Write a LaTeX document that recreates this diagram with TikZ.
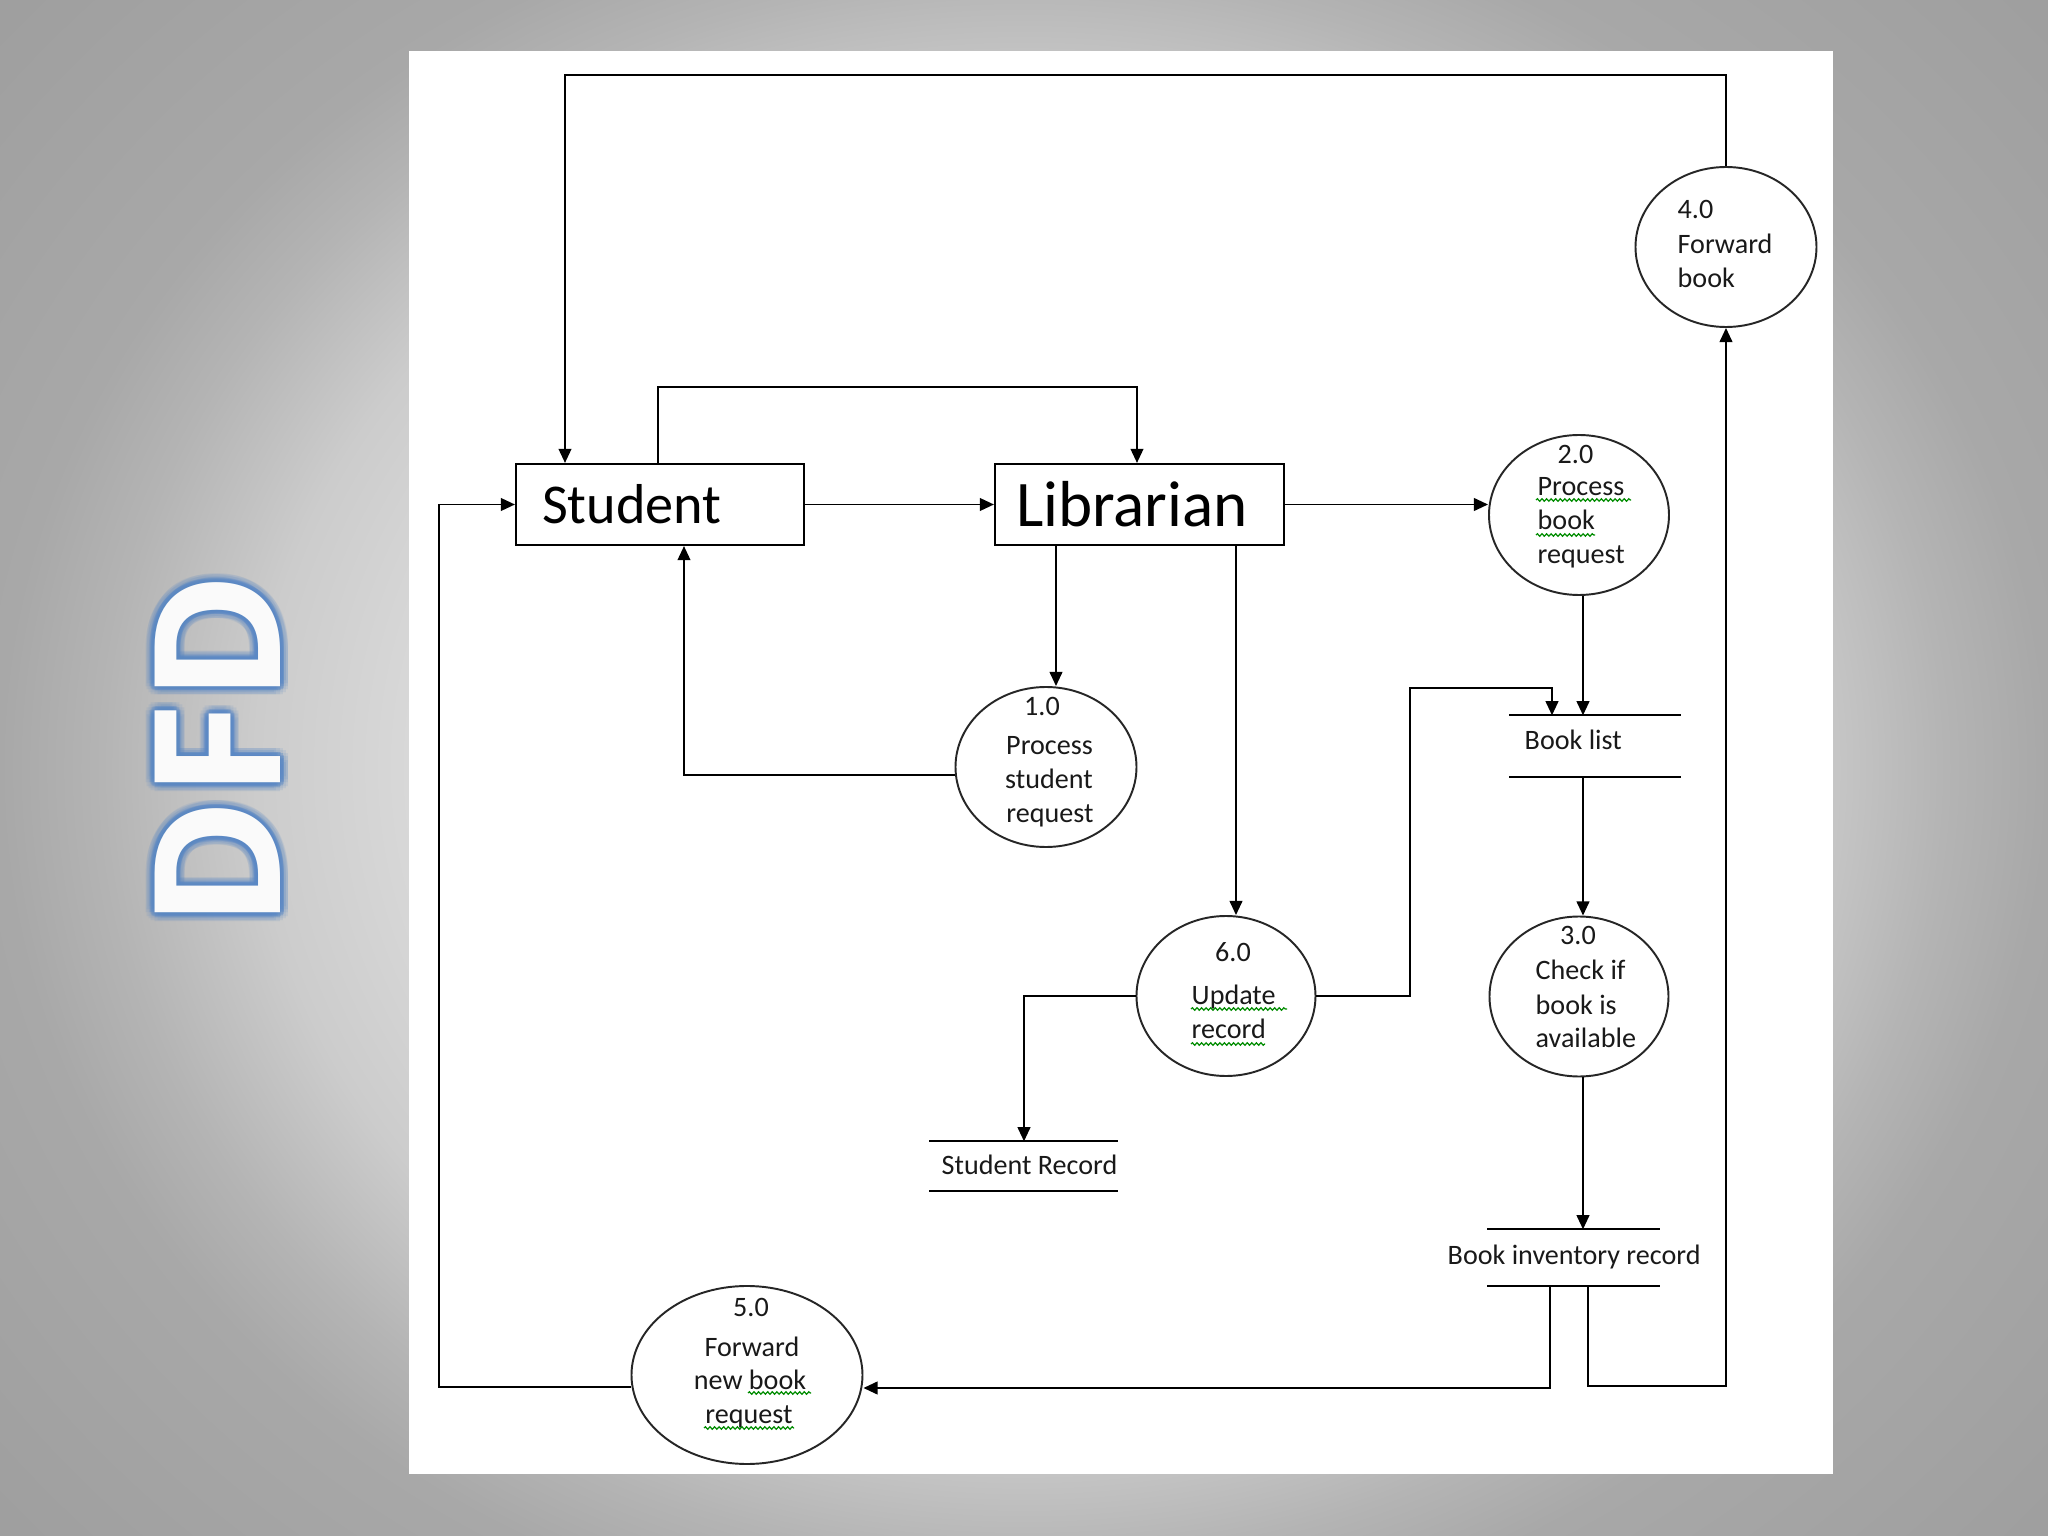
\documentclass[tikz,border=0pt]{standalone}
\usepackage{fontspec}
\setmainfont{Carlito}
\newfontfamily\dfdfont{Open Sans}
\usetikzlibrary{arrows.meta,shapes.geometric,decorations.pathmorphing,calc}

\definecolor{bga}{HTML}{E2E2E2}
\definecolor{bgb}{HTML}{D8D8D8}
\definecolor{bgc}{HTML}{CCCCCC}
\definecolor{bgd}{HTML}{B4B4B4}
\definecolor{bge}{HTML}{A8A8A8}
\definecolor{bgf}{HTML}{9C9C9C}
\definecolor{glowblue}{HTML}{5A88C4}
\pgfdeclareradialshading{bgsh}{\pgfpoint{0bp}{0bp}}{color(0bp)=(bga); color(15bp)=(bgb); color(18.75bp)=(bgc); color(22.5bp)=(bgd); color(25bp)=(bge); color(35.3bp)=(bgf); color(50bp)=(bgf)}

\begin{document}
\begin{tikzpicture}[
  arr/.style={draw, line width=0.55pt, -{Triangle[length=4pt,width=3.6pt]}},
  box/.style={draw, line width=0.6pt, minimum height=0.81cm, align=left, inner ysep=0pt},
  proc/.style={ellipse, draw=black!85, line width=0.55pt, inner sep=0pt},
  ctxt/.style={font=\fontsize{8}{9.7}\selectfont, inner sep=0pt, text=black!90},
  store/.style={draw=none, inner sep=0pt},
  sline/.style={line width=0.6pt},
  squig/.style={decorate, decoration={snake, amplitude=0.35pt, segment length=1.3pt}, draw=green!55!black, line width=0.35pt},
  dfd/.style={font=\dfdfont\bfseries\fontsize{50}{50}\selectfont, rotate=90, inner sep=0pt}
]
\useasboundingbox (0,0) rectangle (20.48,-15.36);
% background
\begin{scope}
  \clip (0,0) rectangle (20.48,-15.36);
  \shade[shading=bgsh] (0,1.15) rectangle (20.48,-16.51);
\end{scope}
\fill[white] (4.09,-0.51) rectangle (18.33,-14.74);

% DFD title
\foreach \i in {0,...,15} {
  \node[dfd, text=glowblue, opacity=0.13] (go\i) at ($(2.175,-7.505)+(\i*22.5:0.085)$) {DFD};
}
\foreach \i in {0,...,15} {
  \node[dfd, text=glowblue, opacity=0.30] (gi\i) at ($(2.175,-7.505)+(\i*22.5:0.045)$) {DFD};
}
\node[dfd, text=white!96!gray] (title) at (2.175,-7.505) {DFD};

% entities
\node[box, text width=2.36cm, inner xsep=0.26cm, font=\fontsize{16}{19}\selectfont] (st) at (6.60,-5.045) {Student};
\node[box, text width=2.47cm, inner xsep=0.21cm, font=\fontsize{18.5}{22}\selectfont] (lib) at (11.395,-5.045) {Librarian};

% processes
\node[proc, minimum width=1.81cm, minimum height=1.60cm] (c4) at (17.26,-2.47) {};
\node[proc, minimum width=1.80cm, minimum height=1.60cm] (c2) at (15.79,-5.15) {};
\node[proc, minimum width=1.81cm, minimum height=1.60cm] (c1) at (10.46,-7.67) {};
\node[proc, minimum width=1.79cm, minimum height=1.60cm] (c6) at (12.26,-9.96) {};
\node[proc, minimum width=1.79cm, minimum height=1.60cm] (c3) at (15.79,-9.965) {};
\node[proc, minimum width=2.31cm, minimum height=1.78cm] (c5) at (7.47,-13.75) {};

% data stores
\node[store, minimum width=1.70cm, minimum height=0.60cm] (bl) at (15.95,-7.46) {};
\node[store, minimum width=1.87cm, minimum height=0.48cm] (sr) at (10.235,-11.66) {};
\node[store, minimum width=1.71cm, minimum height=0.55cm] (bir) at (15.735,-12.575) {};
\foreach \s in {bl,sr,bir} {
  \draw[sline] (\s.north west) -- (\s.north east);
  \draw[sline] (\s.south west) -- (\s.south east);
}
\node[ctxt, anchor=base west] (blt) at (15.24,-7.49) {Book list};
\node[ctxt, anchor=base west] (srt) at (9.41,-11.74) {Student Record};
\node[ctxt, anchor=base west] (birt) at (14.47,-12.64) {Book inventory record};

% process texts
\node[ctxt, anchor=base west] (t4a) at (16.77,-2.19) {4.0};
\node[ctxt, anchor=base west] (t4b) at (16.77,-2.54) {Forward};
\node[ctxt, anchor=base west] (t4c) at (16.77,-2.88) {book};

\node[ctxt, anchor=base] (t2a) at (15.755,-4.64) {2.0};
\node[ctxt, anchor=base west] (t2b) at (15.37,-4.96) {Process};
\node[ctxt, anchor=base west] (t2c) at (15.37,-5.30) {book};
\node[ctxt, anchor=base west] (t2d) at (15.37,-5.63) {request};

\node[ctxt, anchor=base] (t1a) at (10.42,-7.16) {1.0};
\node[ctxt, anchor=base] (t1b) at (10.495,-7.54) {Process};
\node[ctxt, anchor=base] (t1c) at (10.49,-7.88) {student};
\node[ctxt, anchor=base] (t1d) at (10.50,-8.22) {request};

\node[ctxt, anchor=base] (t6a) at (12.33,-9.61) {6.0};
\node[ctxt, anchor=base west] (t6b) at (11.91,-10.04) {Update};
\node[ctxt, anchor=base west] (t6c) at (11.91,-10.39) {record};

\node[ctxt, anchor=base] (t3a) at (15.78,-9.45) {3.0};
\node[ctxt, anchor=base west] (t3b) at (15.35,-9.79) {Check if};
\node[ctxt, anchor=base west] (t3c) at (15.35,-10.14) {book is};
\node[ctxt, anchor=base west] (t3d) at (15.35,-10.48) {available};

\node[ctxt, anchor=base] (t5a) at (7.51,-13.16) {5.0};
\node[ctxt, anchor=base] (t5b) at (7.52,-13.56) {Forward};
\node[ctxt, anchor=base] (t5c) at (7.50,-13.89) {new book};
\node[ctxt, anchor=base] (t5d) at (7.49,-14.23) {request};

% spell-check squiggles
\draw[squig] (15.36,-5.00) -- (16.31,-5.00);
\draw[squig] (15.36,-5.35) -- (15.95,-5.35);
\draw[squig] (11.91,-10.09) -- (12.87,-10.09);
\draw[squig] (11.91,-10.44) -- (12.65,-10.44);
\draw[squig] (7.48,-13.93) -- (8.11,-13.93);
\draw[squig] (7.04,-14.28) -- (7.94,-14.28);

% connectors
\coordinate (ktop) at (5.65,-0.75);
\draw[arr] (c4.north) |- (ktop) -- (ktop |- st.north);

\coordinate (kst) at (6.58,-3.87);
\coordinate (klib) at (11.37,-3.87);
\draw[arr] (kst |- st.north) -- (kst) -- (klib) -- (klib |- lib.north);

\draw[arr] (st.east) -- (lib.west);
\draw[arr] (lib.east) -- (lib.east -| c2.west);

\coordinate (kc1) at (10.56,-6.0);
\draw[arr] (kc1 |- lib.south) -- (kc1 |- c1.north);
\coordinate (kc6) at (12.36,-6.0);
\draw[arr] (kc6 |- lib.south) -- (kc6 |- c6.north);

\coordinate (kret) at (6.84,-7.75);
\draw[arr] (kret -| c1.west) -- (kret) -- (kret |- st.south);

\coordinate (kx) at (15.83,-7.0);
\draw[arr] (kx |- c2.south) -- (kx |- bl.north);
\coordinate (kup) at (14.10,-6.88);
\coordinate (kdn) at (15.52,-6.88);
\draw[arr] (c6.east) -| (kup) -- (kdn) -- (kdn |- bl.north);

\coordinate (ksr) at (10.24,-9.0);
\draw[arr] (c6.west) -| (ksr |- sr.north);

\draw[arr] (kx |- bl.south) -- (kx |- c3.north);
\draw[arr] (kx |- c3.south) -- (kx |- bir.north);

\coordinate (kb1) at (15.50,-13.88);
\draw[arr] (kb1 |- bir.south) -- (kb1) -- (kb1 -| c5.east);
\coordinate (kb2) at (15.88,-13.86);
\draw[arr] (kb2 |- bir.south) -- (kb2) -| (c4.south);

\coordinate (kl) at (4.39,-13.87);
\draw[arr] (kl -| c5.west) -- (kl) |- (st.west);
\end{tikzpicture}
\end{document}
